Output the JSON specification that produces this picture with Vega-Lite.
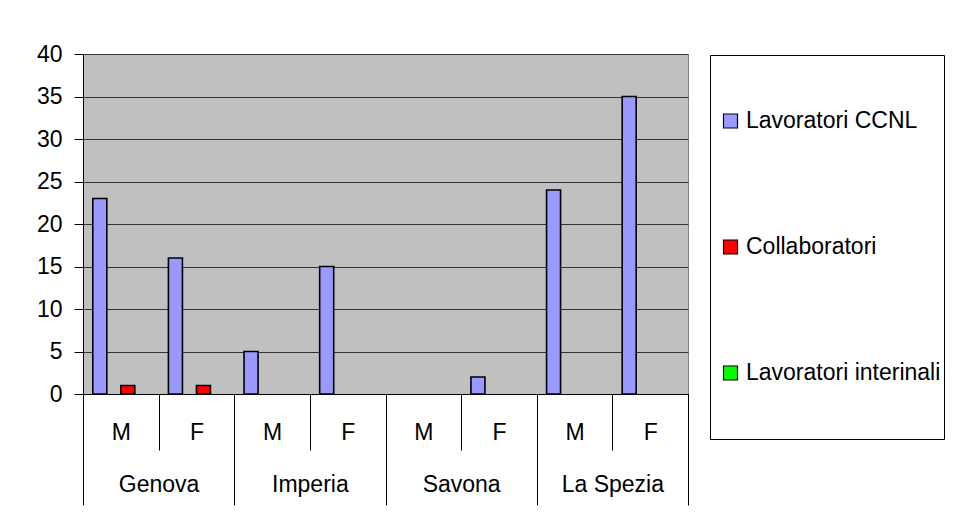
{
  "$schema": "https://vega.github.io/schema/vega-lite/v6.json",
  "width": 605,
  "height": 340,
  "autosize": {"type": "none"},
  "padding": {"left": 83, "top": 54, "right": 270, "bottom": 128},
  "background": "white",
  "config": {
    "font": "Liberation Sans",
    "view": {"fill": "#C0C0C0", "stroke": "#808080", "strokeWidth": 1}
  },
  "data": {
    "values": [
      {"city": "Genova", "cat": "Genova-M", "series": "Lavoratori CCNL", "value": 23},
      {"city": "Genova", "cat": "Genova-M", "series": "Collaboratori", "value": 1},
      {"city": "Genova", "cat": "Genova-M", "series": "Lavoratori interinali", "value": 0},
      {"city": "Genova", "cat": "Genova-F", "series": "Lavoratori CCNL", "value": 16},
      {"city": "Genova", "cat": "Genova-F", "series": "Collaboratori", "value": 1},
      {"city": "Genova", "cat": "Genova-F", "series": "Lavoratori interinali", "value": 0},
      {"city": "Imperia", "cat": "Imperia-M", "series": "Lavoratori CCNL", "value": 5},
      {"city": "Imperia", "cat": "Imperia-M", "series": "Collaboratori", "value": 0},
      {"city": "Imperia", "cat": "Imperia-M", "series": "Lavoratori interinali", "value": 0},
      {"city": "Imperia", "cat": "Imperia-F", "series": "Lavoratori CCNL", "value": 15},
      {"city": "Imperia", "cat": "Imperia-F", "series": "Collaboratori", "value": 0},
      {"city": "Imperia", "cat": "Imperia-F", "series": "Lavoratori interinali", "value": 0},
      {"city": "Savona", "cat": "Savona-M", "series": "Lavoratori CCNL", "value": 0},
      {"city": "Savona", "cat": "Savona-M", "series": "Collaboratori", "value": 0},
      {"city": "Savona", "cat": "Savona-M", "series": "Lavoratori interinali", "value": 0},
      {"city": "Savona", "cat": "Savona-F", "series": "Lavoratori CCNL", "value": 2},
      {"city": "Savona", "cat": "Savona-F", "series": "Collaboratori", "value": 0},
      {"city": "Savona", "cat": "Savona-F", "series": "Lavoratori interinali", "value": 0},
      {"city": "La Spezia", "cat": "La Spezia-M", "series": "Lavoratori CCNL", "value": 24},
      {"city": "La Spezia", "cat": "La Spezia-M", "series": "Collaboratori", "value": 0},
      {"city": "La Spezia", "cat": "La Spezia-M", "series": "Lavoratori interinali", "value": 0},
      {"city": "La Spezia", "cat": "La Spezia-F", "series": "Lavoratori CCNL", "value": 35},
      {"city": "La Spezia", "cat": "La Spezia-F", "series": "Collaboratori", "value": 0},
      {"city": "La Spezia", "cat": "La Spezia-F", "series": "Lavoratori interinali", "value": 0}
    ]
  },
  "layer": [
    {
      "mark": {"type": "bar", "stroke": "black", "strokeWidth": 1.6},
      "encoding": {
        "x": {
          "field": "cat", "type": "nominal", "sort": null,
          "scale": {"paddingInner": 0, "paddingOuter": 0},
          "axis": {
            "title": null, "orient": "bottom",
            "labelExpr": "isString(datum.value) ? slice(datum.value, -1) : ''",
            "tickBand": "extent", "tickSize": 56, "tickColor": "black", "tickWidth": 1,
            "domainColor": "black", "domainWidth": 1, "labelFontSize": 23, "labelColor": "black",
            "labelPadding": -18, "labelBaseline": "middle", "labelAngle": 0, "grid": false
          }
        },
        "xOffset": {
          "field": "series", "type": "nominal",
          "scale": {"domain": ["Lavoratori CCNL", "Lavoratori interinali", "Collaboratori", "altro"], "paddingInner": 0, "paddingOuter": 0.7}
        },
        "y": {
          "field": "value", "type": "quantitative", "stack": null,
          "scale": {"domain": [0, 40]},
          "axis": {
            "title": null, "values": [0, 5, 10, 15, 20, 25, 30, 35, 40],
            "grid": true, "gridColor": "#333333", "gridWidth": 1,
            "tickColor": "black", "tickSize": 9, "domainColor": "black",
            "labelFontSize": 23, "labelColor": "black", "labelPadding": 12
          }
        },
        "strokeOpacity": {
          "condition": {"test": "datum.value == 0", "value": 0},
          "value": 1
        },
        "color": {
          "field": "series", "type": "nominal",
          "scale": {"domain": ["Lavoratori CCNL", "Collaboratori", "Lavoratori interinali"], "range": ["#9999FF", "#FF0000", "#00FF00"]},
          "legend": {
            "orient": "none", "legendX": 627, "legendY": 1, "title": null,
            "strokeColor": "black", "fillColor": "white", "padding": 3,
            "clipHeight": 126, "symbolOffset": 6, "symbolType": "square", "symbolSize": 196,
            "symbolStrokeColor": "black", "symbolStrokeWidth": 1.2, "symbolOpacity": 1,
            "labelFontSize": 23, "labelColor": "black", "labelOffset": 4, "labelLimit": 400, "rowPadding": 0
          }
        }
      }
    },
    {
      "mark": {"type": "bar", "opacity": 0},
      "encoding": {
        "x": {
          "field": "city", "type": "nominal", "sort": null,
          "scale": {"paddingInner": 0, "paddingOuter": 0},
          "axis": {
            "title": null, "orient": "bottom", "tickBand": "extent", "tickSize": 111,
            "tickColor": "black", "tickWidth": 1, "domainColor": "black",
            "labelFontSize": 23, "labelColor": "black", "labelPadding": -21,
            "labelBaseline": "middle", "labelAngle": 0, "grid": false
          }
        },
        "y": {"field": "value", "type": "quantitative", "stack": null}
      }
    }
  ],
  "resolve": {"scale": {"x": "independent", "xOffset": "independent"}, "axis": {"x": "independent"}}
}
